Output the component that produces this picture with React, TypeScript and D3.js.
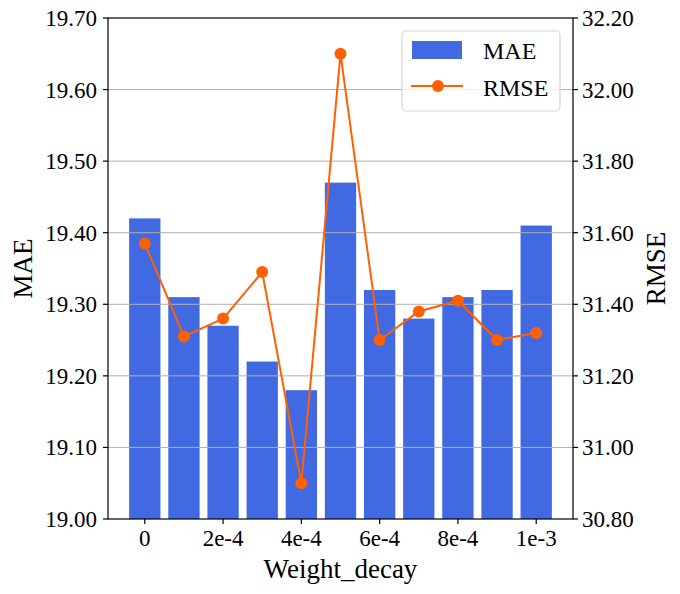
import React from 'react'
import * as d3 from 'd3'

const categories = ['0', '1e-4', '2e-4', '3e-4', '4e-4', '5e-4', '6e-4', '7e-4', '8e-4', '9e-4', '1e-3']
const tickLabels = ['0', '2e-4', '4e-4', '6e-4', '8e-4', '1e-3']
const maeValues = [19.42, 19.31, 19.27, 19.22, 19.18, 19.47, 19.32, 19.28, 19.31, 19.32, 19.41]
const rmseValues = [31.57, 31.31, 31.36, 31.49, 30.9, 32.1, 31.3, 31.38, 31.41, 31.3, 31.32]
const maeTicks = [19.0, 19.1, 19.2, 19.3, 19.4, 19.5, 19.6, 19.7]
const rmseTicks = [30.8, 31.0, 31.2, 31.4, 31.6, 31.8, 32.0, 32.2]

const width = 680
const height = 594
const margin = { top: 18, right: 107, bottom: 75, left: 108 }
const font =
  "'Liberation Serif', Tinos, 'Noto Serif', 'DejaVu Serif', 'Nimbus Roman', 'Nimbus Roman No9 L', FreeSerif, 'Times New Roman', Times, serif"
const barColor = '#4169e1'
const lineColor = '#ff6000'

export default function App() {
  const innerRight = width - margin.right
  const innerBottom = height - margin.bottom

  // categorical positions, matplotlib-style padding around bars
  const x = d3
    .scaleLinear()
    .domain([-0.94, categories.length - 1 + 0.94])
    .range([margin.left, innerRight])
  const barW = x(0.4) - x(-0.4)

  const yMae = d3.scaleLinear().domain([19.0, 19.7]).range([innerBottom, margin.top])
  const yRmse = d3.scaleLinear().domain([30.8, 32.2]).range([innerBottom, margin.top])

  const line = d3
    .line<number>()
    .x((_, i) => x(i))
    .y((d) => yRmse(d))

  return (
    <svg
      width={width}
      height={height}
      style={{ position: 'absolute', left: 0, top: 0, background: '#fff', fontFamily: font }}
    >
      {/* bars */}
      {maeValues.map((v, i) => (
        <rect
          key={'b' + i}
          x={x(i) - barW / 2}
          y={yMae(v)}
          width={barW}
          height={innerBottom - yMae(v)}
          fill={barColor}
        />
      ))}

      {/* grid from the left axis, drawn over bars */}
      {maeTicks.slice(1, -1).map((t) => (
        <line
          key={'g' + t}
          x1={margin.left}
          x2={innerRight}
          y1={yMae(t)}
          y2={yMae(t)}
          stroke="#b0b0b0"
          strokeWidth={1}
        />
      ))}

      {/* RMSE line */}
      <path d={line(rmseValues) || ''} fill="none" stroke={lineColor} strokeWidth={2} />
      {rmseValues.map((v, i) => (
        <circle key={'p' + i} cx={x(i)} cy={yRmse(v)} r={6} fill={lineColor} />
      ))}

      {/* frame */}
      <rect
        x={margin.left}
        y={margin.top}
        width={innerRight - margin.left}
        height={innerBottom - margin.top}
        fill="none"
        stroke="#000"
        strokeWidth={1.2}
      />

      {/* left axis */}
      {maeTicks.map((t) => (
        <g key={'l' + t}>
          <line x1={margin.left - 5} x2={margin.left} y1={yMae(t)} y2={yMae(t)} stroke="#000" strokeWidth={1.2} />
          <text x={margin.left - 11} y={yMae(t)} dy="0.35em" textAnchor="end" fontSize={23}>
            {t.toFixed(2)}
          </text>
        </g>
      ))}

      {/* right axis */}
      {rmseTicks.map((t) => (
        <g key={'r' + t}>
          <line x1={innerRight} x2={innerRight + 5} y1={yRmse(t)} y2={yRmse(t)} stroke="#000" strokeWidth={1.2} />
          <text x={innerRight + 9} y={yRmse(t)} dy="0.35em" textAnchor="start" fontSize={23}>
            {t.toFixed(2)}
          </text>
        </g>
      ))}

      {/* bottom axis */}
      {tickLabels.map((lab) => {
        const i = categories.indexOf(lab)
        return (
          <g key={'x' + lab}>
            <line x1={x(i)} x2={x(i)} y1={innerBottom} y2={innerBottom + 5} stroke="#000" strokeWidth={1.2} />
            <text x={x(i)} y={innerBottom + 27} textAnchor="middle" fontSize={23}>
              {lab}
            </text>
          </g>
        )
      })}

      {/* axis titles */}
      <text x={(margin.left + innerRight) / 2} y={578} textAnchor="middle" fontSize={27}>
        Weight_decay
      </text>
      <text transform={`translate(32,${(margin.top + innerBottom) / 2}) rotate(-90)`} textAnchor="middle" fontSize={27}>
        MAE
      </text>
      <text transform={`translate(665,${(margin.top + innerBottom) / 2}) rotate(-90)`} textAnchor="middle" fontSize={27}>
        RMSE
      </text>

      {/* legend */}
      <g>
        <rect x={402} y={31} width={158} height={80} rx={4} fill="#fff" fillOpacity={0.8} stroke="#d6d6d6" strokeWidth={1.2} />
        <rect x={412} y={41} width={50} height={18} fill={barColor} />
        <text x={483} y={59} fontSize={24}>
          MAE
        </text>
        <line x1={411} x2={463} y1={86} y2={86} stroke={lineColor} strokeWidth={2} />
        <circle cx={438} cy={86} r={6} fill={lineColor} />
        <text x={483} y={96} fontSize={24}>
          RMSE
        </text>
      </g>
    </svg>
  )
}
